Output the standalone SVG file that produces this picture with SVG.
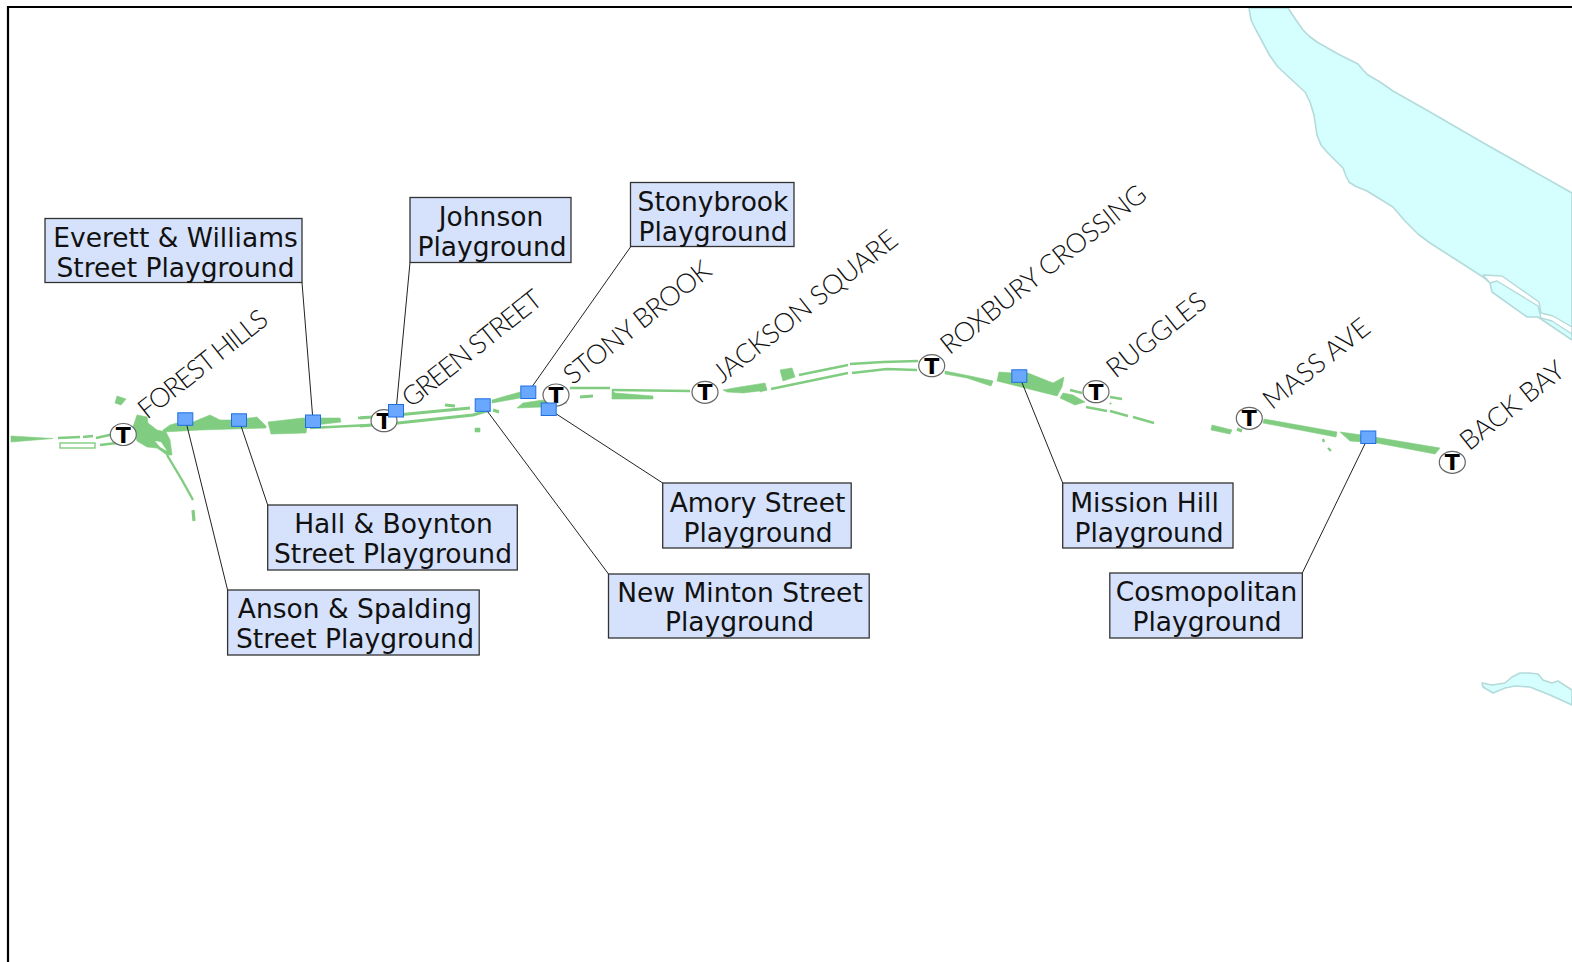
<svg xmlns="http://www.w3.org/2000/svg" width="1572" height="962" viewBox="0 0 1572 962">
<style>
.w{fill:#d5ffff;stroke:#b4dada;stroke-width:1.6;stroke-linejoin:round}
.g{fill:#80cc80;stroke:#80cc80;stroke-width:.6;stroke-linejoin:round}
.l{fill:none;stroke:#80cc80;stroke-width:2.4}
.lt{fill:none;stroke:#80cc80;stroke-width:3.200}
.c{stroke:#222;stroke-width:1;fill:none}
.b{fill:#d6e2fb;stroke:#333;stroke-width:1.3}
.m{fill:#6aa8ff;stroke:#1f6fe0;stroke-width:1}
.t{font-family:"DejaVu Sans",Verdana,sans-serif;font-size:26.5px;fill:#111;text-anchor:middle}
.s{font-family:"Lato","Open Sans",sans-serif;font-weight:300;font-size:27px;fill:#111}
.tc{fill:#fff;stroke:#666;stroke-width:1.2}
.tt{font-family:"DejaVu Sans",sans-serif;font-weight:bold;font-size:22px;fill:#000;text-anchor:middle}
</style>
<rect x="0" y="0" width="1572" height="962" fill="#fff"/>
<g id="water">
<path class="w" d="M1249,8L1251,20L1256,30L1263,43L1270,56L1278,67L1292,80L1305,92L1310,102L1314,115L1317,135L1321,145L1327,152L1337,162L1343,168L1346,176L1349,182L1355,186L1367,191L1380,199L1393,207L1405,221L1418,234L1430,243L1455,259L1483,277L1490,283L1492,292L1527,317L1538,317L1572,340L1572,193L1487,145L1430,112L1393,91L1380,82L1368,75L1363,70L1358,64L1338,54L1317,42L1309,36L1303,30L1296,20L1288,8Z"/>
<path d="M1483,275L1502,276L1539,302L1541,313L1553,316L1572,327L1572,334L1552,321L1541,318L1538,306L1497,281L1490,283Z" fill="#fff" stroke="#b4dada" stroke-width="1.4" stroke-linejoin="round"/>
<path class="w" d="M1482,683L1483,687L1493,693L1505,688L1515,686L1530,687L1550,695L1572,705L1572,690L1558,681L1552,683L1543,680L1538,674L1529,673L1520,673L1512,677L1505,683L1492,685Z"/>
</g>
<g id="corridor">
<path class="g" d="M11,436L53,438.500L11,442Z"/>
<path class="g" d="M117,396L126,399L121,405L115,403Z"/>
<path class="g" d="M137,415L147,417L148,423L157,430L166,432L170,440L172,455L167,455L157,448L147,447L137,441L133,427Z"/>
<path d="M155,441L161,442L167,451L160,447Z" fill="#fff"/>
<path class="g" d="M163,430L170,425L177,423L193,422L210,415L220,420L233,420L257,417L266,426L266,428L200,430L163,432Z"/>
<path class="g" d="M268,422L303,418L340,418L341,422L307,426L306,433L271,434Z"/>
<path class="l" d="M310,428L370,425M358,418L367,417M167,455L182,480L193,500"/>
<path class="lt" d="M193,510L194,521"/>
<path class="l" d="M58,438L80,437M83,437L93,436"/>
<rect x="60" y="443" width="35" height="5" fill="#fff" stroke="#80cc80" stroke-width="1.4"/>
<path class="l" d="M100,445L117,443M96,438L114,434"/>
<path class="lt" d="M360,418L397,415L470,408"/>
<path class="lt" d="M360,426L398,423L473,415L490,410"/>
<path class="g" d="M492,400L520,392L520,398L492,403Z"/>
<path class="g" d="M517,408L523,403L543,400L567,403L542,407Z"/>
<path class="l" d="M570,388L610,388M612,390L690,391"/>
<path class="g" d="M612,390L615,393L653,396L653,399L612,399Z"/>
<path class="lt" d="M580,397L593,396M445,405L455,406M493,410L499,412"/>
<path class="g" d="M475,428L480,428L480,432L475,432Z"/>
<path class="g" d="M723,390L740,387L765,383L767,390L743,393L727,392Z"/>
<path class="g" d="M760,385L767,390L760,392Z"/>
<path class="g" d="M780,370L792,368L795,377L783,381Z"/>
<path class="l" d="M799,375L848,365M850,364L883,362L918,361M771,389L848,373M852,373L887,369L917,370"/>
<path class="g" d="M945,371L970,376L993,381L991,386L967,378L945,374Z"/>
<path class="g" d="M999,372L1013,373L1028,373L1053,383L1064,377L1062,387L1057,396L997,381Z"/>
<path class="g" d="M1063,393L1073,395L1085,402L1075,405L1060,398Z"/>
<path class="l" d="M1070,390L1082,393M1110,397L1122,399M1086,407L1107,411M1110,411L1128,416M1133,417L1154,423M1110,403L1111,404"/>
<path class="g" d="M1212,425L1232,430L1230,434L1211,430Z"/>
<path class="lt" d="M1237,429L1242,431"/>
<path class="g" d="M1264,419L1337,432L1336,437L1263,423Z"/>
<path class="g" d="M1340,432L1362,435L1440,448L1435,454L1377,443L1350,441Z"/>
<path class="l" d="M1323,439L1324,442M1328,448L1331,451"/>
</g>
<g id="connectors">
<path class="c" d="M227.600,590L185.300,419M267.700,505L239,420M302,282.500L313,421M410,262.500L396,411M630.500,247L528.300,392M662.700,483L548.700,409M608.500,574L482.700,405M1062.700,483L1019.300,376M1302.300,573L1368.300,437"/>
</g>
<g id="stations">
<g id="st-forest-hills"><ellipse class="tc" cx="123.300" cy="434.500" rx="13" ry="11"/><text class="tt" x="123.300" y="442.500">T</text><text class="s" transform="translate(147,420) rotate(-38.400)" textLength="157" lengthAdjust="spacing">FOREST HILLS</text></g>
<g id="st-green-street"><ellipse class="tc" cx="384" cy="420.700" rx="13" ry="11"/><text class="tt" x="384" y="428.700">T</text><text class="s" transform="translate(411,408.500) rotate(-38.400)" textLength="170" lengthAdjust="spacing">GREEN STREET</text></g>
<g id="st-stony-brook"><ellipse class="tc" cx="556" cy="395" rx="13" ry="11"/><text class="tt" x="556" y="403">T</text><text class="s" transform="translate(572.500,385.500) rotate(-38.400)" textLength="180" lengthAdjust="spacing">STONY BROOK</text></g>
<g id="st-jackson-square"><ellipse class="tc" cx="705" cy="392.300" rx="13" ry="11"/><text class="tt" x="705" y="400.300">T</text><text class="s" transform="translate(722,384) rotate(-38.400)" textLength="227" lengthAdjust="spacing">JACKSON SQUARE</text></g>
<g id="st-roxbury-crossing"><ellipse class="tc" cx="931.700" cy="365.700" rx="13" ry="11"/><text class="tt" x="931.700" y="373.700">T</text><text class="s" transform="translate(949.500,355.500) rotate(-38.400)" textLength="254" lengthAdjust="spacing">ROXBURY CROSSING</text></g>
<g id="st-ruggles"><ellipse class="tc" cx="1096" cy="391.700" rx="13" ry="11"/><text class="tt" x="1096" y="399.700">T</text><text class="s" transform="translate(1115.500,379) rotate(-38.400)" textLength="119" lengthAdjust="spacing">RUGGLES</text></g>
<g id="st-mass-ave"><ellipse class="tc" cx="1249.300" cy="418.300" rx="13" ry="11"/><text class="tt" x="1249.300" y="426.300">T</text><text class="s" transform="translate(1272,410.500) rotate(-38.400)" textLength="128" lengthAdjust="spacing">MASS AVE</text></g>
<g id="st-back-bay"><ellipse class="tc" cx="1452.300" cy="462.300" rx="13" ry="11"/><text class="tt" x="1452.300" y="470.300">T</text><text class="s" transform="translate(1469,451.500) rotate(-38.400)" textLength="125" lengthAdjust="spacing">BACK BAY</text></g>
</g>
<g id="markers">
<rect class="m" x="177.800" y="412.800" width="15" height="12.500"/>
<rect class="m" x="231.500" y="413.800" width="15" height="12.500"/>
<rect class="m" x="305.500" y="415" width="15" height="12.500"/>
<rect class="m" x="388.500" y="404.500" width="15" height="12.500"/>
<rect class="m" x="475.200" y="398.800" width="15" height="12.500"/>
<rect class="m" x="520.800" y="386" width="15" height="12.500"/>
<rect class="m" x="541.200" y="403" width="15" height="12.500"/>
<rect class="m" x="1011.800" y="369.800" width="15" height="12.500"/>
<rect class="m" x="1360.800" y="431" width="15" height="12.500"/>
</g>
<g id="everett"><rect class="b" x="45" y="218.500" width="257" height="64"/><text class="t" x="175.500" y="246.500">Everett &amp; Williams</text><text class="t" x="175.500" y="276.500">Street Playground</text></g>
<g id="johnson"><rect class="b" x="410" y="197.500" width="161" height="65"/><text class="t" x="491" y="225.500">Johnson</text><text class="t" x="492" y="255.500">Playground</text></g>
<g id="stonybrook"><rect class="b" x="630.500" y="182.500" width="163.500" height="64"/><text class="t" x="713" y="210.500">Stonybrook</text><text class="t" x="713" y="240.500">Playground</text></g>
<g id="hall"><rect class="b" x="267.700" y="505" width="249.600" height="65"/><text class="t" x="393.500" y="533">Hall &amp; Boynton</text><text class="t" x="393" y="563">Street Playground</text></g>
<g id="anson"><rect class="b" x="227.600" y="590" width="251.600" height="65"/><text class="t" x="355" y="618">Anson &amp; Spalding</text><text class="t" x="355" y="648">Street Playground</text></g>
<g id="amory"><rect class="b" x="662.700" y="483" width="188.500" height="65"/><text class="t" x="757.500" y="512">Amory Street</text><text class="t" x="758" y="542">Playground</text></g>
<g id="new-minton"><rect class="b" x="608.500" y="574" width="260.700" height="64"/><text class="t" x="740" y="602">New Minton Street</text><text class="t" x="739.500" y="631">Playground</text></g>
<g id="mission-hill"><rect class="b" x="1062.700" y="483" width="170.300" height="65"/><text class="t" x="1144.500" y="512">Mission Hill</text><text class="t" x="1149" y="542">Playground</text></g>
<g id="cosmopolitan"><rect class="b" x="1109.800" y="573" width="192.500" height="65"/><text class="t" x="1206.500" y="601">Cosmopolitan</text><text class="t" x="1207" y="631">Playground</text></g>
<path id="frame" d="M8,962V7H1572" fill="none" stroke="#000" stroke-width="2.200"/>
</svg>
